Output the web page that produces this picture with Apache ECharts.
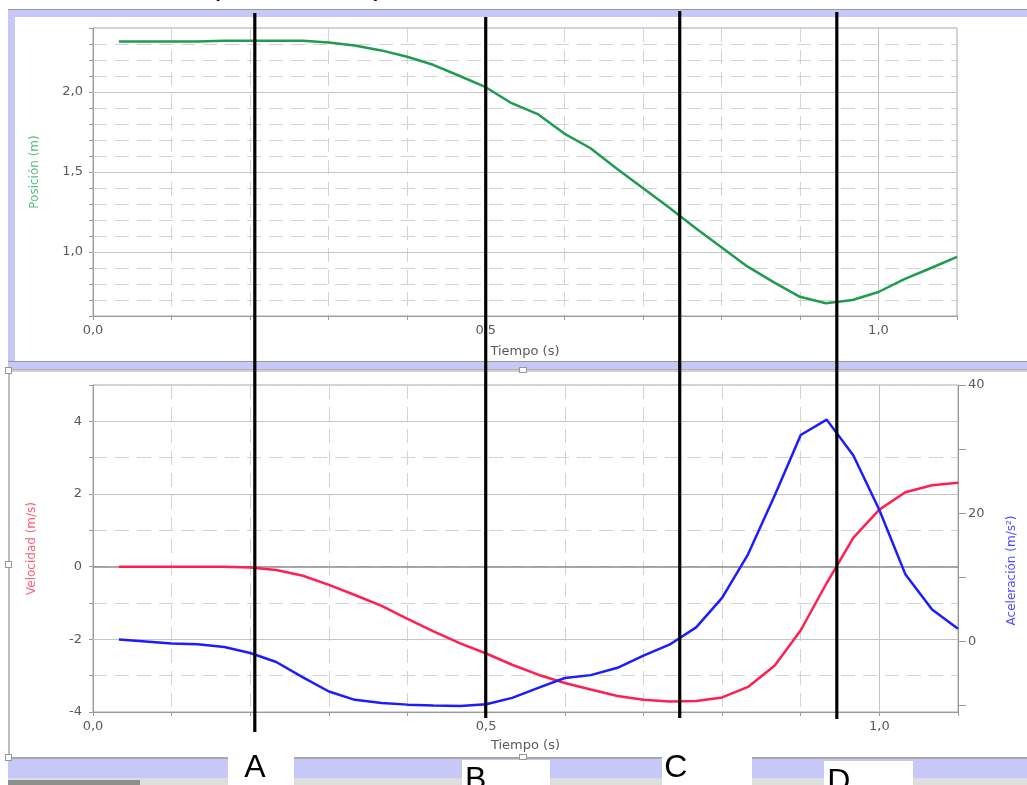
<!DOCTYPE html>
<html><head><meta charset="utf-8">
<script src="https://cdn.jsdelivr.net/npm/echarts@6/dist/echarts.min.js"></script>
<style>
html,body{margin:0;padding:0;background:#fff;width:1027px;height:785px;overflow:hidden;}
.f{position:absolute;}
.frag{position:absolute;font-family:'Liberation Sans',Arial,sans-serif;font-size:30px;line-height:30px;color:#000;}
#chart{position:absolute;left:0;top:0;width:1027px;height:785px;}
</style></head><body>
<div class="frag" style="left:210px;top:-30px;">(</div>
<div class="frag" style="left:372px;top:-30px;">p</div>
<div class="f" style="left:8px;top:9px;width:1019px;height:1px;background:#9a9a9a"></div>
<div class="f" style="left:8px;top:10px;width:1019px;height:7px;background:#c8c8f8"></div>
<div class="f" style="left:8px;top:10px;width:7px;height:352px;background:#c8c8f8"></div>
<div class="f" style="left:8px;top:361px;width:1019px;height:1px;background:#9a9a9a"></div>
<div class="f" style="left:8px;top:362px;width:1019px;height:7px;background:#c8c8f8"></div>
<div class="f" style="left:8px;top:369px;width:1019px;height:1px;background:#b4b4b4"></div>
<div class="f" style="left:8px;top:370px;width:1019px;height:2px;background:#cfcfcf"></div>
<div class="f" style="left:8px;top:370px;width:2px;height:387px;background:#bdbdbd"></div>
<div class="f" style="left:8px;top:757px;width:1019px;height:2px;background:#a8a8a8"></div>
<div class="f" style="left:8px;top:759px;width:1019px;height:19px;background:#c8c8f8"></div>
<div class="f" style="left:8px;top:778px;width:1019px;height:7px;background:#dedede"></div>
<div class="f" style="left:8px;top:780px;width:132px;height:5px;background:#8e8e8e"></div>
<div class="f" style="left:228px;top:755px;width:66px;height:30px;background:#fff"></div>
<div class="f" style="left:462px;top:760px;width:88px;height:25px;background:#fff"></div>
<div class="f" style="left:662px;top:755px;width:90px;height:30px;background:#fff"></div>
<div class="f" style="left:824px;top:761px;width:89px;height:24px;background:#fff"></div>
<div class="f" style="left:5px;top:367px;width:5px;height:5px;background:#fff;border:1px solid #999"></div>
<div class="f" style="left:5px;top:561px;width:5px;height:5px;background:#fff;border:1px solid #999"></div>
<div class="f" style="left:5px;top:754px;width:5px;height:5px;background:#fff;border:1px solid #999"></div>
<div class="f" style="left:519px;top:367px;width:6px;height:4px;background:#fff;border:1px solid #999"></div>
<div class="f" style="left:519px;top:754px;width:6px;height:4px;background:#fff;border:1px solid #999"></div>
<div id="chart"></div>
<script>
// ---- data ----
const tiempo = [0.033,0.067,0.1,0.133,0.167,0.2,0.233,0.267,0.3,0.333,0.367,0.4,0.433,0.467,0.5,0.533,0.567,0.6,0.633,0.667,0.7,0.733,0.767,0.8,0.833,0.867,0.9,0.933,0.967,1.0,1.033,1.067,1.1];
const posicion = [2.315,2.315,2.315,2.315,2.32,2.32,2.32,2.32,2.31,2.29,2.26,2.22,2.17,2.10,2.03,1.93,1.86,1.74,1.65,1.52,1.40,1.28,1.15,1.03,0.91,0.81,0.72,0.68,0.70,0.75,0.83,0.90,0.97];
const velocidad = [0.0,0.0,0.0,0.0,0.0,-0.02,-0.09,-0.25,-0.50,-0.78,-1.08,-1.44,-1.78,-2.11,-2.39,-2.70,-2.98,-3.20,-3.38,-3.56,-3.66,-3.71,-3.70,-3.60,-3.31,-2.72,-1.75,-0.45,0.80,1.57,2.05,2.24,2.31];
const aceleracion = [0.3,0.0,-0.3,-0.45,-0.85,-1.8,-3.2,-5.6,-7.8,-9.1,-9.6,-9.85,-10.0,-10.05,-9.8,-8.8,-7.2,-5.7,-5.25,-4.1,-2.2,-0.5,2.2,6.8,13.6,22.8,32.2,34.6,29.0,20.5,10.5,5.0,2.0];
const xMayores = [0.5, 1.0];
const posMayores = [1.0, 1.5, 2.0];
const velMayores = [-2, 2, 4];
const acelEtiquetas = [0, 20, 40];
const acelMarcas = [-10, 0, 10, 20, 30, 40];
const marcaTiempos = [0.206, 0.5, 0.747, 0.947];
const marcaLetras = ['A', 'B', 'C', 'D'];

const FONT = 'DejaVu Sans';
const coma = (v, d) => v.toFixed(d).replace('.', ',');
const isMult = (v, m) => Math.abs(v / m - Math.round(v / m)) < 1e-6;

const dashed = { color: '#d2d2d2', width: 1, type: [14, 8] };
const axisLineStyle = { lineStyle: { color: '#9a9a9a', width: 1 }, onZero: false };
const tickStyle = { show: true, length: 4, lineStyle: { color: '#9a9a9a' } };
const labelStyle = { color: '#5a5a5a', fontSize: 13, fontFamily: FONT };

function xAxisDef(grid, gap) {
  return {
    type: 'value', gridIndex: grid, min: 0, max: 1.1, interval: 0.1,
    name: 'Tiempo (s)', nameLocation: 'middle', nameGap: gap,
    nameTextStyle: { color: '#5a5a5a', fontSize: 13, fontFamily: FONT },
    axisLine: axisLineStyle, axisTick: tickStyle,
    axisLabel: Object.assign({ margin: 8, formatter: v => isMult(v, 0.5) ? coma(v, 1) : '' }, labelStyle),
    splitLine: { show: true, lineStyle: dashed }
  };
}

const chart = echarts.init(document.getElementById('chart'), null, { renderer: 'canvas' });
const majorLine = { color: '#c4c4c4', width: 1, type: 'solid' };

chart.setOption({
  backgroundColor: 'transparent',
  animation: false,
  grid: [
    { left: 93, right: 70, top: 28, height: 288, show: true, borderColor: '#a8a8a8', borderWidth: 1, backgroundColor: 'transparent' },
    { left: 93, right: 69, top: 385, height: 327, show: true, borderColor: '#a8a8a8', borderWidth: 1, backgroundColor: 'transparent' }
  ],
  xAxis: [xAxisDef(0, 29), xAxisDef(1, 27)],
  yAxis: [
    {
      type: 'value', gridIndex: 0, min: 0.6, max: 2.4, interval: 0.1,
      name: 'Posición (m)', nameLocation: 'middle', nameGap: 52, nameRotate: 90,
      nameTextStyle: { color: '#5cbf82', fontSize: 12, fontFamily: FONT },
      axisLine: axisLineStyle, axisTick: tickStyle,
      axisLabel: Object.assign({ margin: 10, formatter: v => isMult(v, 0.5) ? coma(v, 1) : '' }, labelStyle),
      splitLine: { show: true, lineStyle: dashed }
    },
    {
      type: 'value', gridIndex: 1, min: -4, max: 5, interval: 1,
      name: 'Velocidad (m/s)', nameLocation: 'middle', nameGap: 55, nameRotate: 90,
      nameTextStyle: { color: '#ff5a78', fontSize: 12, fontFamily: FONT },
      axisLine: axisLineStyle, axisTick: tickStyle,
      axisLabel: Object.assign({ margin: 11, formatter: v => isMult(v, 2) ? String(v) : '' }, labelStyle),
      splitLine: { show: true, lineStyle: dashed }
    },
    {
      type: 'value', gridIndex: 1, min: -11, max: 40, position: 'right',
      name: 'Aceleración (m/s²)', nameLocation: 'middle', nameGap: 48, nameRotate: 90,
      nameTextStyle: { color: '#4d4dff', fontSize: 12, fontFamily: FONT, padding: [0, 44, 0, 0] },
      axisLine: axisLineStyle,
      axisTick: { show: true, length: 8, lineStyle: { color: '#9a9a9a' }, customValues: acelMarcas },
      axisLabel: Object.assign({ margin: 10, customValues: acelEtiquetas, formatter: v => String(v) }, labelStyle),
      splitLine: { show: false }
    }
  ],
  series: [
    {
      type: 'line', xAxisIndex: 0, yAxisIndex: 0, z: 10,
      data: tiempo.map((t, i) => [t, posicion[i]]),
      showSymbol: false, symbol: 'none',
      lineStyle: { color: '#1f9b52', width: 2.5 },
      markLine: {
        silent: true, symbol: 'none', label: { show: false }, animation: false, z: 1,
        lineStyle: majorLine,
        data: posMayores.map(v => ({ yAxis: v })).concat(xMayores.map(v => ({ xAxis: v })))
      }
    },
    {
      type: 'line', xAxisIndex: 1, yAxisIndex: 1, z: 10,
      data: tiempo.map((t, i) => [t, velocidad[i]]),
      showSymbol: false, symbol: 'none',
      lineStyle: { color: '#ff2052', width: 2.5 },
      markLine: {
        silent: true, symbol: 'none', label: { show: false }, animation: false, z: 1,
        lineStyle: majorLine,
        data: velMayores.map(v => ({ yAxis: v })).concat(xMayores.map(v => ({ xAxis: v })))
          .concat([{ yAxis: 0, lineStyle: { color: '#8c8c8c', width: 1.5, type: 'solid' } }])
      }
    },
    {
      type: 'line', xAxisIndex: 1, yAxisIndex: 2, z: 11,
      data: tiempo.map((t, i) => [t, aceleracion[i]]),
      showSymbol: false, symbol: 'none',
      lineStyle: { color: '#1c1cff', width: 2.5 }
    }
  ]
});

// hand-drawn annotation lines through both panels, placed via the time axis
const spans = [[13, 732], [17, 718], [11, 718], [12, 719]];
const letterOff = [[0, 752], [-10, 764], [-4, 752], [2, 766]];
const g = [];
marcaTiempos.forEach((t, i) => {
  const px = chart.convertToPixel({ xAxisIndex: 0 }, t);
  g.push({ type: 'line', z: 100, shape: { x1: px, y1: spans[i][0], x2: px, y2: spans[i][1] },
           style: { stroke: '#000', lineWidth: 3.2 } });
  g.push({ type: 'text', z: 100, style: { text: marcaLetras[i], x: px + letterOff[i][0], y: letterOff[i][1],
           font: '32px "Liberation Sans", Arial, sans-serif', fill: '#000', align: 'center', verticalAlign: 'top' } });
});
chart.setOption({ graphic: g });
</script>
</body></html>
